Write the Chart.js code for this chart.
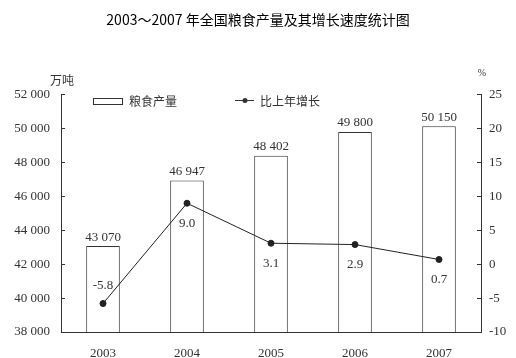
<!DOCTYPE html>
<html><head><meta charset="utf-8">
<script src="https://cdn.jsdelivr.net/npm/chart.js@4.4.1/dist/chart.umd.min.js"></script>
<style>html,body{margin:0;padding:0;background:#fff;}</style>
</head><body>
<canvas id="c" width="516" height="358"></canvas>
<script>
const years = ['2003', '2004', '2005', '2006', '2007'];
const grainOutput = [43070, 46947, 48402, 49800, 50150];
const growthRate = [-5.8, 9.0, 3.1, 2.9, 0.7];
const outputAxis = { min: 38000, max: 52000, step: 2000 };
const growthAxis = { min: -10, max: 25, step: 5 };
const titleText = '2003～2007 年全国粮食产量及其增长速度统计图';
const barLabel = '粮食产量';
const lineLabel = '比上年增长';
const leftUnit = '万吨';
const rightUnit = '%';

const SERIF = '"Liberation Serif", "DejaVu Serif", serif';
const CJK = '"Noto Sans CJK SC", sans-serif';
const INK = '#333';
const fmt = n => String(n).replace(/\B(?=(\d{3})+(?!\d))/g, ' ');

const extras = {
  id: 'extras',
  afterDatasetsDraw(chart) {
    const ctx = chart.ctx;
    ctx.save();
    ctx.fillStyle = INK;
    ctx.font = '13px ' + SERIF;
    ctx.textAlign = 'center';
    ctx.textBaseline = 'middle';
    const barMeta = chart.getDatasetMeta(0);
    barMeta.data.forEach((el, i) => {
      ctx.fillText(fmt(grainOutput[i]), el.x, el.y - 9);
    });
    const lineMeta = chart.getDatasetMeta(1);
    lineMeta.data.forEach((el, i) => {
      const v = growthRate[i];
      const dy = v < 0 ? -18 : 20;
      ctx.fillText(v.toFixed(1), el.x, el.y + dy);
    });
    ctx.restore();
  },
  afterDraw(chart) {
    const ctx = chart.ctx;
    const a = chart.chartArea;
    ctx.save();
    ctx.fillStyle = INK;
    ctx.strokeStyle = INK;
    ctx.lineWidth = 1;
    ctx.textBaseline = 'middle';
    // legend
    ctx.strokeRect(93.5, 98.5, 29, 6);
    ctx.font = '12px ' + CJK;
    ctx.textAlign = 'left';
    ctx.fillText(barLabel, 129, 101);
    ctx.beginPath();
    ctx.moveTo(235, 100.5); ctx.lineTo(254, 100.5); ctx.stroke();
    ctx.beginPath(); ctx.arc(245, 100.5, 2.5, 0, Math.PI * 2); ctx.fill();
    ctx.fillText(lineLabel, 260, 101);
    // units
    ctx.textAlign = 'center';
    ctx.fillText(leftUnit, 62, 80);
    ctx.font = '10px ' + SERIF;
    ctx.fillText(rightUnit, a.right + 1, 73);
    ctx.restore();
  }
};

new Chart(document.getElementById('c'), {
  data: {
    labels: years,
    datasets: [
      {
        type: 'bar', label: barLabel, data: grainOutput, yAxisID: 'y', order: 2,
        backgroundColor: '#fff', borderColor: INK, borderWidth: 1, borderSkipped: false,
        barPercentage: 0.4, categoryPercentage: 1
      },
      {
        type: 'line', label: lineLabel, data: growthRate, yAxisID: 'y1', order: 1,
        borderColor: '#222', borderWidth: 1, tension: 0,
        pointRadius: 3, pointBackgroundColor: '#222', pointBorderColor: '#222'
      }
    ]
  },
  options: {
    responsive: false,
    animation: false,
    devicePixelRatio: 1,
    layout: { padding: 0 },
    plugins: {
      legend: { display: false },
      tooltip: { enabled: false },
      title: {
        display: true, text: titleText, color: '#000',
        font: { family: CJK, size: 14, weight: 'normal' },
        padding: { top: 11, bottom: 67 }
      }
    },
    scales: {
      x: {
        grid: { display: false },
        border: { display: true, color: INK },
        ticks: { color: INK, font: { family: SERIF, size: 13 }, padding: 6 },
        afterFit: s => { s.height = 26; }
      },
      y: {
        position: 'left',
        min: outputAxis.min, max: outputAxis.max,
        grid: { drawOnChartArea: false, drawTicks: true, tickLength: -4, color: INK },
        border: { display: true, color: INK },
        ticks: { stepSize: outputAxis.step, color: INK, font: { family: SERIF, size: 13 }, padding: 15,
                 callback: v => fmt(v) },
        afterFit: s => { s.width = 61; }
      },
      y1: {
        position: 'right',
        min: growthAxis.min, max: growthAxis.max,
        grid: { drawOnChartArea: false, drawTicks: true, tickLength: -4, color: INK },
        border: { display: true, color: INK },
        ticks: { stepSize: growthAxis.step, color: INK, font: { family: SERIF, size: 13 }, padding: 12 },
        afterFit: s => { s.width = 35; }
      }
    }
  },
  plugins: [extras]
});
</script>
</body></html>
